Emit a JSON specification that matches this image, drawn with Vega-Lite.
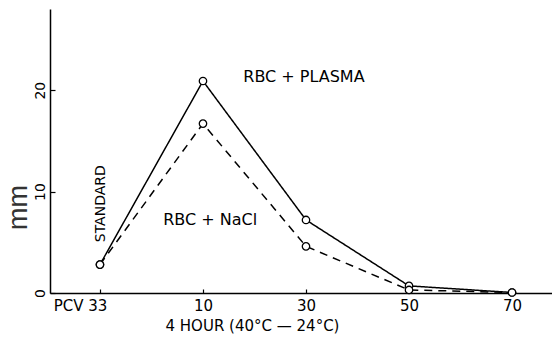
{
  "$schema": "https://vega.github.io/schema/vega-lite/v6.json",
  "width": 502,
  "height": 284,
  "autosize": "none",
  "padding": {"left": 50, "top": 9, "right": 0, "bottom": 44},
  "background": "white",
  "config": {
    "view": {"stroke": null},
    "font": "DejaVu Sans",
    "axis": {"grid": false, "domainColor": "black", "tickColor": "black", "labelColor": "black", "titleColor": "black", "labelFont": "DejaVu Sans", "titleFont": "DejaVu Sans", "titleFontWeight": "normal"}
  },
  "datasets": {
    "series": [
      {"pcv": "PCV 33", "pos": 0, "mm": 2.8, "series": "RBC + PLASMA"},
      {"pcv": "10", "pos": 1, "mm": 20.9, "series": "RBC + PLASMA"},
      {"pcv": "30", "pos": 2, "mm": 7.2, "series": "RBC + PLASMA"},
      {"pcv": "50", "pos": 3, "mm": 0.7, "series": "RBC + PLASMA"},
      {"pcv": "70", "pos": 4, "mm": 0.05, "series": "RBC + PLASMA"},
      {"pcv": "PCV 33", "pos": 0, "mm": 2.8, "series": "RBC + NaCl"},
      {"pcv": "10", "pos": 1, "mm": 16.7, "series": "RBC + NaCl"},
      {"pcv": "30", "pos": 2, "mm": 4.6, "series": "RBC + NaCl"},
      {"pcv": "50", "pos": 3, "mm": 0.3, "series": "RBC + NaCl"},
      {"pcv": "70", "pos": 4, "mm": 0.05, "series": "RBC + NaCl"}
    ],
    "labels": [
      {"label": "RBC + PLASMA", "pos": 1.98, "mm": 21.3},
      {"label": "RBC + NaCl", "pos": 1.07, "mm": 7.2}
    ],
    "standard": [
      {"label": "STANDARD", "pos": 0.01, "mm": 8.8}
    ]
  },
  "layer": [
    {
      "data": {"name": "series"},
      "mark": {"type": "line", "color": "black", "strokeWidth": 1.5},
      "encoding": {
        "x": {
          "field": "pos", "type": "quantitative",
          "scale": {"domain": [-0.485, 4.388], "nice": false, "zero": false},
          "axis": {
            "values": [0, 1, 2, 3, 4],
            "labelExpr": "['PCV 33','10','30','50','70'][datum.value]",
            "title": "4 HOUR (40°C — 24°C)",
            "titleFontSize": 15,
            "titleX": 202,
            "titleY": 32,
            "titleAlign": "center",
            "titleBaseline": "middle",
            "labelFontSize": 15,
            "labelOffset": {"condition": {"test": "datum.value == 0", "value": -20}, "value": 0},
            "labelPadding": 9,
            "tickSize": -4,
            "domainWidth": 1.5,
            "tickWidth": 1.2,
            "labelFlush": false
          }
        },
        "y": {
          "field": "mm", "type": "quantitative",
          "scale": {"domain": [0, 28], "nice": false},
          "axis": {
            "values": [0, 10, 20],
            "title": "mm",
            "titleFont": "Liberation Sans",
            "titleFontSize": 27,
            "titleColor": "#333",
            "titleAngle": -90,
            "titleX": -32,
            "titleY": 198,
            "titleAlign": "center",
            "titleBaseline": "middle",
            "labelAngle": -90,
            "labelAlign": "center",
            "labelBaseline": "bottom",
            "labelFontSize": 14,
            "labelPadding": 8,
            "tickSize": -5,
            "domainWidth": 1.5,
            "tickWidth": 1.2,
            "labelFlush": false
          }
        },
        "detail": {"field": "series"},
        "strokeDash": {
          "field": "series", "type": "nominal",
          "scale": {"domain": ["RBC + PLASMA", "RBC + NaCl"], "range": [[1, 0], [8, 6]]},
          "legend": null
        }
      }
    },
    {
      "data": {"name": "series"},
      "mark": {"type": "point", "shape": "circle", "filled": false, "fill": "white", "fillOpacity": 1, "stroke": "black", "strokeWidth": 1.3, "size": 55, "opacity": 1},
      "encoding": {
        "x": {"field": "pos", "type": "quantitative"},
        "y": {"field": "mm", "type": "quantitative"}
      }
    },
    {
      "data": {"name": "labels"},
      "mark": {"type": "text", "fontSize": 16, "font": "DejaVu Sans", "color": "black", "align": "center", "baseline": "middle"},
      "encoding": {
        "x": {"field": "pos", "type": "quantitative"},
        "y": {"field": "mm", "type": "quantitative"},
        "text": {"field": "label"}
      }
    },
    {
      "data": {"name": "standard"},
      "mark": {"type": "text", "fontSize": 14, "font": "DejaVu Sans", "color": "black", "align": "center", "baseline": "middle", "angle": -90},
      "encoding": {
        "x": {"field": "pos", "type": "quantitative"},
        "y": {"field": "mm", "type": "quantitative"},
        "text": {"field": "label"}
      }
    }
  ]
}
